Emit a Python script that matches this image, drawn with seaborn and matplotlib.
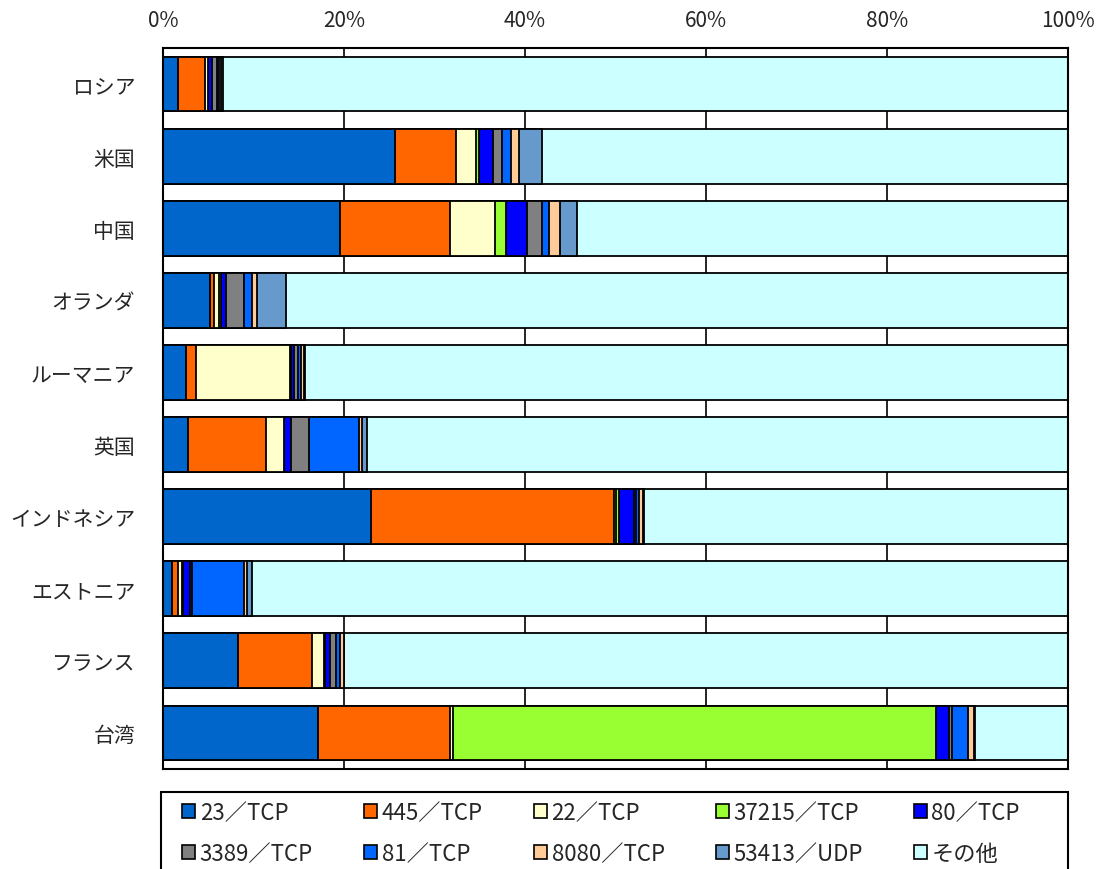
import matplotlib
matplotlib.use("Agg")
import matplotlib.pyplot as plt
from matplotlib.patches import Patch, Rectangle
import numpy as np
import pandas as pd
import seaborn as sns

sns.set_theme(style="white")
plt.rcParams["font.family"] = ["Noto Sans CJK JP", "DejaVu Sans"]

countries = ["ロシア", "米国", "中国", "オランダ", "ルーマニア",
             "英国", "インドネシア", "エストニア", "フランス", "台湾"]

ports = ["23/TCP", "445/TCP", "22/TCP", "37215/TCP", "80/TCP",
         "3389/TCP", "81/TCP", "8080/TCP", "53413/UDP", "その他"]
legend_labels = ["23／TCP", "445／TCP", "22／TCP", "37215／TCP", "80／TCP",
                 "3389／TCP", "81／TCP", "8080／TCP", "53413／UDP", "その他"]

# share (%) of each port per country, in the order of `countries`
p23 = [1.7, 25.6, 19.6, 5.2, 2.55, 2.75, 22.95, 1.0, 8.3, 17.1]
p445 = [2.9, 6.8, 12.1, 0.4, 1.1, 8.65, 26.85, 0.65, 8.2, 14.65]
p22 = [0.35, 2.2, 4.95, 0.6, 10.4, 1.95, 0.3, 0.45, 1.3, 0.3]
p37215 = [0.0, 0.3, 1.25, 0.2, 0.05, 0.05, 0.3, 0.1, 0.1, 53.35]
p80 = [0.45, 1.6, 2.3, 0.6, 0.4, 0.7, 1.6, 0.8, 0.6, 1.4]
p3389 = [0.6, 1.0, 1.7, 1.95, 0.45, 2.0, 0.3, 0.2, 0.65, 0.35]
p81 = [0.2, 0.9, 0.7, 0.9, 0.3, 5.6, 0.3, 5.75, 0.45, 1.75]
p8080 = [0.2, 0.9, 1.3, 0.55, 0.3, 0.3, 0.45, 0.3, 0.35, 0.7]
p53413 = [0.2, 2.6, 1.85, 3.2, 0.15, 0.5, 0.15, 0.55, 0.1, 0.1]
other = [93.4, 58.1, 54.25, 86.4, 84.3, 77.5, 46.8, 90.2, 79.95, 10.3]

colors = ["#0066CC", "#FF6600", "#FFFFCC", "#99FF33", "#0000FF",
          "#808080", "#0066FF", "#FFCC99", "#6699CC", "#CCFFFF"]

values = [p23, p445, p22, p37215, p80, p3389, p81, p8080, p53413, other]
df = pd.DataFrame({port: vals for port, vals in zip(ports, values)}, index=countries)
df = df.div(df.sum(axis=1), axis=0) * 100
cum = df.cumsum(axis=1)

W, H = 1105, 870
fig = plt.figure(figsize=(W / 100, H / 100), dpi=100)
ax = fig.add_axes([163 / W, 1 - 770 / H, 905 / W, 721 / H])

for x in [20, 40, 60, 80]:
    ax.axvline(x, color="black", lw=1.2, zorder=0)

# stacked bars: draw cumulative totals from the outermost segment inwards
for port, color in reversed(list(zip(ports, colors))):
    data = pd.DataFrame({"country": countries, "value": cum[port].values})
    sns.barplot(data=data, y="country", x="value", color=color, orient="h",
                width=0.76, edgecolor="black", linewidth=1.3, saturation=1,
                ax=ax, zorder=2)

ax.set_xlim(0, 100)
ax.set_ylim(9.5, -0.5)
ax.set_xticks([0, 20, 40, 60, 80, 100])
ax.set_xticklabels([f"{v}%" for v in [0, 20, 40, 60, 80, 100]])
ax.xaxis.tick_top()
ax.tick_params(axis="x", length=0, pad=12, labelsize=15)
ax.tick_params(axis="y", length=0, pad=20, labelsize=15)
ax.set_xlabel("")
ax.set_ylabel("")
for s in ax.spines.values():
    s.set_visible(True)
    s.set_color("black")
    s.set_linewidth(1.5)

# legend box (extends past the bottom edge of the figure)
fig.patches.append(Rectangle((161 / W, -0.02), 907 / W, 1 - 793 / H + 0.02,
                             transform=fig.transFigure, fill=False,
                             edgecolor="black", linewidth=1.5))

# legend entries laid out row by row (5 columns x 2 rows)
order = [0, 5, 1, 6, 2, 7, 3, 8, 4, 9]
handles = [Patch(facecolor=colors[i], edgecolor="black", linewidth=1.2) for i in order]
labels = [legend_labels[i] for i in order]
fig.legend(handles, labels, ncol=5, loc="upper left",
           bbox_to_anchor=(182 / W, -0.05, 838 / W, 1 - 802 / H + 0.05),
           mode="expand", frameon=False, fontsize=16,
           handlelength=0.6, handleheight=0.6, handletextpad=0.2,
           labelspacing=0.8, borderpad=0.0, borderaxespad=0)

fig.savefig("out.png", dpi=100)
